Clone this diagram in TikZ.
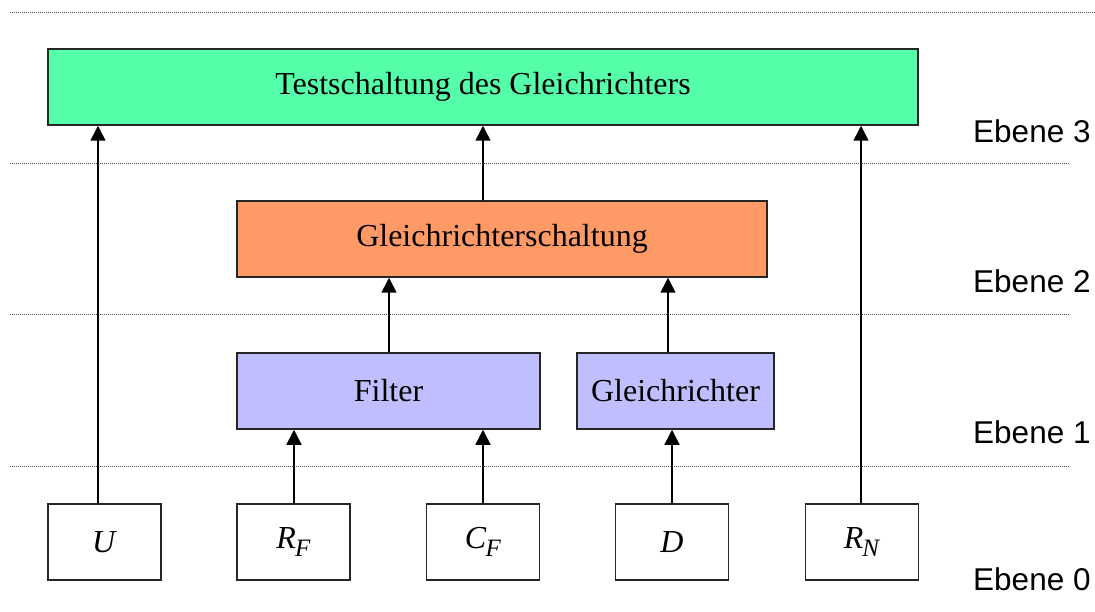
\documentclass[tikz,border=0pt]{standalone}
\usepackage{fontspec}
\setmainfont{Liberation Serif}
\newfontfamily\labelfont{Liberation Sans}
\usetikzlibrary{arrows.meta}
\definecolor{lvlthree}{HTML}{55FFAA}
\definecolor{lvltwo}{HTML}{FF9966}
\definecolor{lvlone}{HTML}{BFBFFF}
\newcommand{\symb}[2]{\textit{#1}\kern-1pt\raisebox{-8pt}{\fontsize{25}{26}\selectfont\textit{#2}}}
\tikzset{
  box/.style={draw=black!85, line width=1.5pt, inner sep=0pt, font=\fontsize{32}{36}\selectfont},
  leaf/.style={box, fill=white, minimum width=113pt, minimum height=76pt},
  arr/.style={line width=1.6pt, -{Triangle[length=15pt,width=15pt]}},
  sep/.style={draw=black!70, line width=0.9pt, dash pattern=on 1pt off 1pt},
  lvl/.style={anchor=base west, inner sep=0pt, font=\labelfont\fontsize{31.5}{36}\selectfont}
}
\begin{document}
\begin{tikzpicture}[x=1pt, y=-1pt]
\useasboundingbox (0,0) rectangle (1095,612);
% level separators
\coordinate (s0a) at (10,12);   \coordinate (s0b) at (1097,12);
\coordinate (s1a) at (10,163);  \coordinate (s1b) at (1070,163);
\coordinate (s2a) at (10,314);  \coordinate (s2b) at (1070,314);
\coordinate (s3a) at (10,466);  \coordinate (s3b) at (1070,466);
\draw[sep] (s0a) -- (s0b);
\draw[sep] (s1a) -- (s1b);
\draw[sep] (s2a) -- (s2b);
\draw[sep] (s3a) -- (s3b);
% level labels
\node[lvl] (e3) at (973,143) {Ebene 3};
\node[lvl] (e2) at (973,293) {Ebene 2};
\node[lvl] (e1) at (973,443) {Ebene 1};
\node[lvl] (e0) at (973,590) {Ebene 0};
% blocks
\node[box, fill=lvlthree, minimum width=870pt, minimum height=76pt] (top) at (483,87) {Testschaltung des Gleichrichters};
\node[box, fill=lvltwo, minimum width=530pt, minimum height=76pt] (gs) at (502,239) {Gleichrichterschaltung};
\node[box, fill=lvlone, minimum width=303pt, minimum height=76pt] (filt) at (388.5,391) {Filter};
\node[box, fill=lvlone, minimum width=197pt, minimum height=76pt] (gl) at (675.5,391) {Gleichrichter};
% components
\node[leaf] (U)  at (104.5,542) {\textit{U}};
\node[leaf] (RF) at (293.5,542) {\symb{R}{F}};
\node[leaf] (CF) at (483,542)   {\symb{C}{F}};
\node[leaf] (D)  at (672,542)   {\textit{D}};
\node[leaf] (RN) at (862,542)   {\symb{R}{N}};
% connections
\coordinate (uT) at (98,0);
\coordinate (rnT) at (861,0);
\coordinate (glT) at (668,0);
\coordinate (rfT) at (294,0);
\coordinate (flT) at (389,0);
\draw[arr] (U.north -| uT) -- (top.south -| uT);
\draw[arr] (RN.north -| rnT) -- (top.south -| rnT);
\draw[arr] (gs.north -| top.south) -- (top.south);
\draw[arr] (RF.north -| rfT) -- (filt.south -| rfT);
\draw[arr] (CF.north) -- (CF |- filt.south);
\draw[arr] (D.north) -- (D |- gl.south);
\draw[arr] (filt.north -| flT) -- (gs.south -| flT);
\draw[arr] (gl.north -| glT) -- (gs.south -| glT);
\end{tikzpicture}
\end{document}
